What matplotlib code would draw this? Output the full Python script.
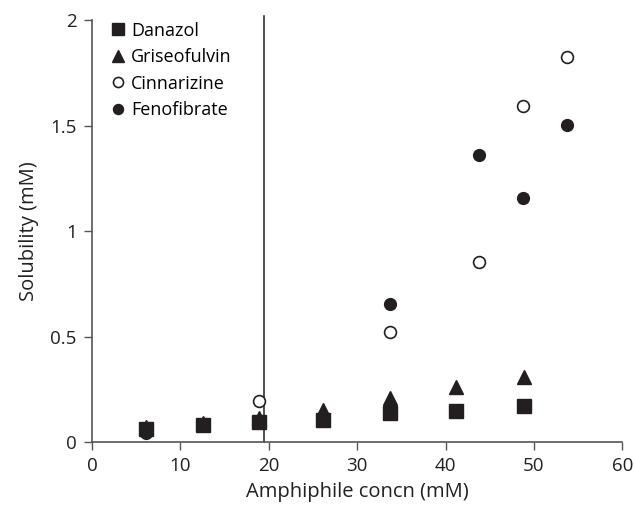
import matplotlib
matplotlib.use("Agg")
import matplotlib.pyplot as plt

plt.rcParams['font.family'] = ['Open Sans', 'DejaVu Sans']

# amphiphile concentration (mM) and solubility (mM) for each drug
danazol_x = [6.1, 12.5, 18.9, 26.1, 33.7, 41.2, 48.9]
danazol_y = [0.062, 0.08, 0.095, 0.105, 0.137, 0.148, 0.172]

griseo_x = [6.1, 12.5, 18.9, 26.1, 33.7, 41.2, 48.9]
griseo_y = [0.07, 0.09, 0.115, 0.15, 0.208, 0.262, 0.307]

cinna_x = [18.9, 33.7, 43.8, 48.8, 53.7]
cinna_y = [0.194, 0.52, 0.855, 1.594, 1.826]

feno_x = [6.1, 33.7, 43.8, 48.8, 53.7]
feno_y = [0.043, 0.654, 1.36, 1.158, 1.502]

cmc = 19.5

fig = plt.figure(figsize=(6.35, 5.09), dpi=100)
ax = fig.add_axes([0.145, 0.1316, 0.835, 0.829])

ink = '#231f20'
ax.plot(griseo_x, griseo_y, '^', color=ink, markersize=10, label='Griseofulvin', zorder=3)
ax.plot(danazol_x, danazol_y, 's', color=ink, markersize=10, label='Danazol', zorder=4)
ax.plot(cinna_x, cinna_y, 'o', mfc='white', mec=ink, mew=1.2, markersize=8.5, label='Cinnarizine', zorder=3)
ax.plot(feno_x, feno_y, 'o', color=ink, markersize=8.5, label='Fenofibrate', zorder=3)

ax.plot([cmc, cmc], [0, 2.02], color=ink, lw=1.1, clip_on=False, zorder=2)

ax.set_xlim(0, 60)
ax.set_ylim(0, 2)
ax.set_xticks([0, 10, 20, 30, 40, 50, 60])
ax.set_yticks([0, 0.5, 1, 1.5, 2])
ax.set_yticklabels(['0', '0.5', '1', '1.5', '2'])
for s in ['top', 'right']:
    ax.spines[s].set_visible(False)
for s in ['left', 'bottom']:
    ax.spines[s].set_color('#555555')
    ax.spines[s].set_linewidth(1.2)
ax.tick_params(direction='out', length=6, width=1.0, color='#555555',
               labelsize=13.5, labelcolor=ink, pad=5)

ax.set_xlabel('Amphiphile concn (mM)', fontsize=14.5, color=ink, labelpad=5)
ax.set_ylabel('Solubility (mM)', fontsize=14.5, color=ink, labelpad=8)

h, l = ax.get_legend_handles_labels()
order = [1, 0, 2, 3]
ax.legend([h[i] for i in order], [l[i] for i in order], loc='upper left',
          bbox_to_anchor=(0.0, 1.035), frameon=False, fontsize=13,
          handletextpad=0.15, labelspacing=0.47, handlelength=1.1,
          markerscale=0.85)

fig.savefig('out.png', dpi=100)
